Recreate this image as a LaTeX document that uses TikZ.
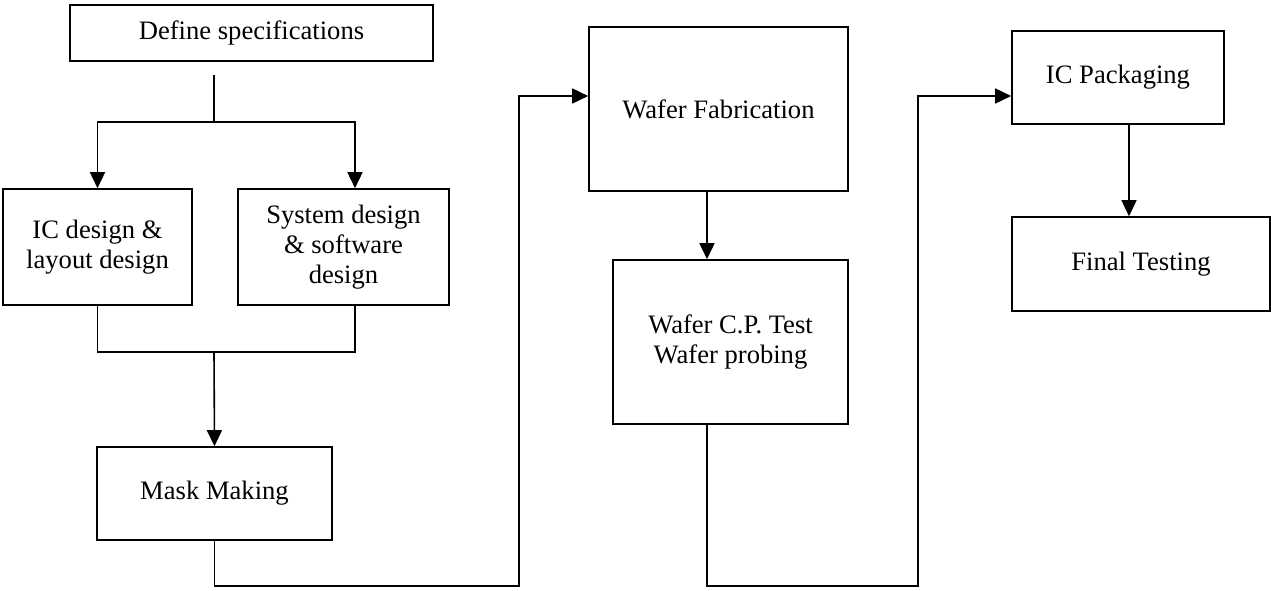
\documentclass[tikz,border=0pt]{standalone}
\usepackage{fontspec}
\setmainfont{Liberation Serif}
\usetikzlibrary{shapes,arrows.meta,calc}

\begin{document}
\begin{tikzpicture}[x = 0.5pt, y = -0.5pt, font = \fontsize{13.3}{15}\selectfont]

    % Define block styles
    \tikzstyle{block} = [rectangle, draw, line width = 0.8pt, inner sep = 0pt,
        align = center]
    \tikzstyle{line} = [draw, line width = 0.8pt,
        -{Triangle[length = 8pt, width = 7.5pt]}]
    \tikzstyle{wire} = [draw, line width = 0.8pt]

    \useasboundingbox (0,0) rectangle (1271,590);

    % Place nodes
    \node [block, minimum width = 181.5pt, minimum height = 28pt] (spec)
        at (251.5,33) {Define specifications};
    \node [block, minimum width = 94.5pt, minimum height = 58pt] (icd)
        at (97.5,247) {IC design \&\\ layout design};
    \node [block, minimum width = 105.5pt, minimum height = 58pt] (sysd)
        at (343.5,247) {System design\\ \& software\\ design};
    \node [block, minimum width = 117.5pt, minimum height = 46.5pt] (mask)
        at (214.5,493.5) {Mask Making};
    \node [block, minimum width = 129.5pt, minimum height = 82pt] (fab)
        at (718.5,109) {Wafer Fabrication};
    \node [block, minimum width = 117.5pt, minimum height = 82pt] (cpt)
        at (730.5,342) {Wafer C.P. Test\\ Wafer probing};
    \node [block, minimum width = 106pt, minimum height = 46.5pt] (pkg)
        at (1118,77.5) {IC Packaging};
    \node [block, minimum width = 129pt, minimum height = 47pt] (final)
        at (1141,264) {Final Testing};

    % Junction points
    \coordinate (s0) at (214,75);
    \coordinate (s1) at (214,122);
    \coordinate (j1) at (214,352);
    \coordinate (m1) at (519,586);
    \coordinate (c2) at (918,586);
    \coordinate (f1) at ($(fab.south)+(-11.5,0)$);
    \coordinate (c1) at ($(cpt.south)+(-23.5,0)$);
    \coordinate (p1) at ($(pkg.south)+(11,0)$);

    % Draw edges
    \path [wire] (s0) -- (s1);
    \path [line] (s1) -| (icd.north);
    \path [line] (s1) -| ($(sysd.north)+(11.5,0)$);
    \path [wire] (icd.south) |- (j1) -| ($(sysd.south)+(11.5,0)$);
    \path [line] (j1) -- (mask.north);
    \path [line] (mask.south) |- (m1) |- ($(fab.west)+(0,-13)$);
    \path [line] (f1) -- (f1 |- cpt.north);
    \path [line] (c1) |- (c2) |- ($(pkg.west)+(0,18.5)$);
    \path [line] (p1) -- (p1 |- final.north);

\end{tikzpicture}
\end{document}
